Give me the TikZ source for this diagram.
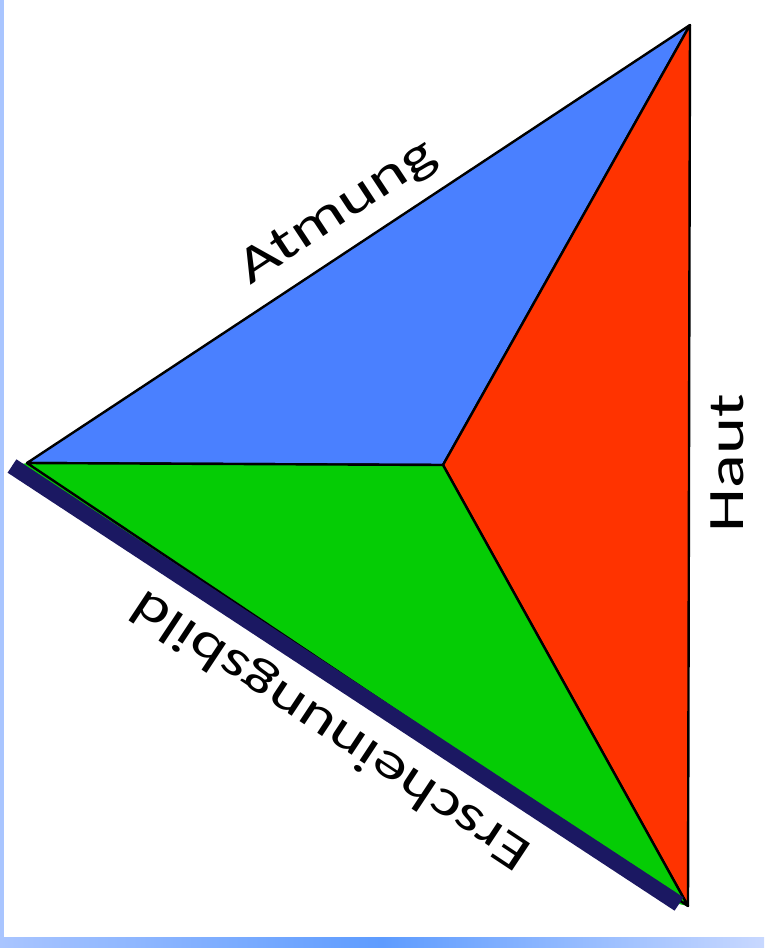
\documentclass[tikz,border=0pt]{standalone}
\usepackage{fontspec}
\setmainfont{Carlito}
\usepackage{tikz}
\definecolor{atmblue}{HTML}{4A80FF}
\definecolor{hautred}{HTML}{FF3300}
\definecolor{bildgreen}{HTML}{05CC05}
\definecolor{navy}{HTML}{1B1862}
\definecolor{framelight}{HTML}{A9C5FF}
\definecolor{framemid}{HTML}{5E9CFF}
\definecolor{frameend}{HTML}{C8D8FF}

\begin{document}
\begin{tikzpicture}[
    x=1pt, y=-1pt,
    part/.style={draw=black, line width=2.4pt, line join=round},
    sidelabel/.style={font=\fontsize{51}{60}\selectfont, inner sep=0pt, text=black}
]
    % frame
    \useasboundingbox (0,0) rectangle (764,948);
    \fill[white] (0,0) rectangle (764,948);
    \fill[framelight] (0,0) rectangle (4,948);
    \shade[left color=framelight, right color=frameend, middle color=framemid] (0,937) rectangle (764,948);

    % corners of the triangle
    \coordinate (top) at (690,25);
    \coordinate (left) at (27,463);
    \coordinate (bottom) at (688,906);
    \coordinate (mid) at (443,465);
    \coordinate (barstart) at (12,466);
    \coordinate (barend) at (679,904);

    \fill[bildgreen] (left) -- (bottom) -- (barend) -- (barstart) -- cycle;
    \filldraw[part, fill=atmblue] (left) -- (top) -- (mid) -- cycle;
    \filldraw[part, fill=hautred] (top) -- (bottom) -- (mid) -- cycle;
    \filldraw[part, fill=bildgreen] (left) -- (mid) -- (bottom) -- cycle;

    % thick bar on the lower side
    \draw[navy, line width=16pt] (barstart) -- (barend);

    \node[sidelabel, rotate=33.4, xscale=1.38] (atmung) at (338,213) {Atmung};
    \node[sidelabel, rotate=90, xscale=1.38] (haut) at (727,463) {Haut};
    \node[sidelabel, rotate=146.5, xscale=1.34] (bild) at (332,729) {Erscheinungsbild};
\end{tikzpicture}
\end{document}
